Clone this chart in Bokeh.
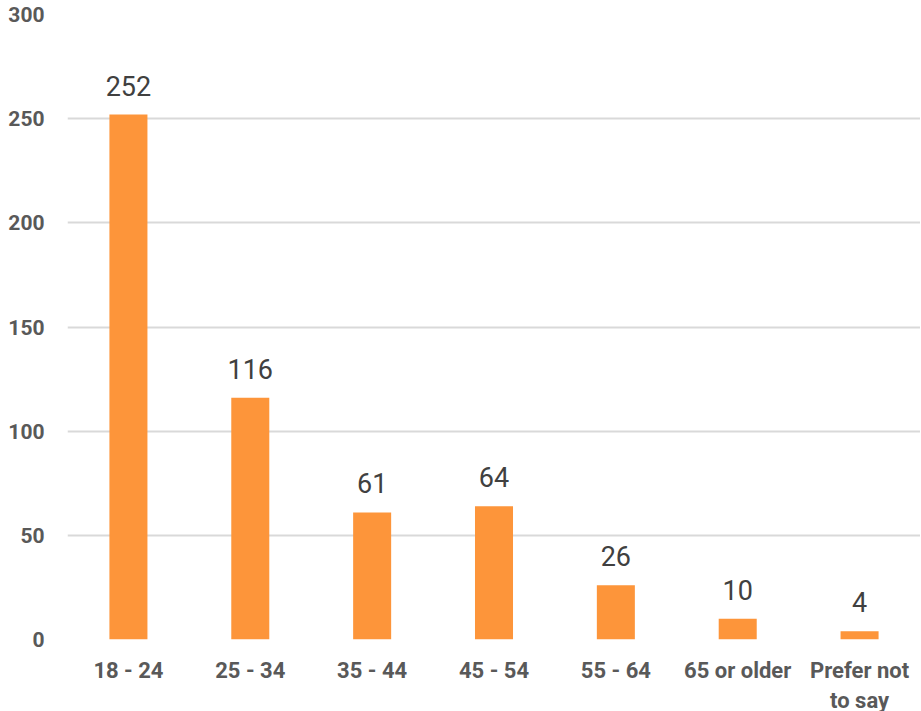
from bokeh.plotting import figure
from bokeh.models import Range1d, FixedTicker, ColumnDataSource, LabelSet
from bokeh.core.properties import value
from bokeh.embed import file_html
from bokeh.resources import INLINE

categories = ["18 - 24", "25 - 34", "35 - 44", "45 - 54", "55 - 64", "65 or older", "Prefer not\nto say"]
counts = [252, 116, 61, 64, 26, 10, 4]
y_ticks = [0, 50, 100, 150, 200, 250, 300]

xs = list(range(len(categories)))
src = ColumnDataSource(dict(x=xs, y=counts, lbl=[str(c) for c in counts]))

p = figure(frame_width=853, frame_height=625,
           output_backend="svg", toolbar_location=None,
           x_range=Range1d(-0.5, 6.5), y_range=Range1d(0, 300),
           min_border_left=67, min_border_right=0, min_border_top=14, min_border_bottom=60)
p.outline_line_color = None
p.background_fill_color = "white"

p.vbar(x="x", top="y", width=0.312, bottom=0, source=src, color="#FD953A", line_color=None)

labels = LabelSet(x="x", y="y", text="lbl", source=src, text_align="center",
                  text_baseline="alphabetic", y_offset=19, text_font=value("Roboto"),
                  text_font_size="27px", text_color="#404040")
p.add_layout(labels)

p.xgrid.grid_line_color = None
p.ygrid.grid_line_color = "#D9D9D9"
p.ygrid.grid_line_width = 2
p.yaxis.ticker = FixedTicker(ticks=y_ticks)
p.xaxis.ticker = FixedTicker(ticks=xs)
p.xaxis.major_label_overrides = {i: c for i, c in enumerate(categories)}

for ax in (p.xaxis[0], p.yaxis[0]):
    ax.axis_line_color = None
    ax.major_tick_line_color = None
    ax.minor_tick_line_color = None
    ax.major_tick_out = 0
    ax.major_tick_in = 0
    ax.major_label_text_font = "Roboto"
    ax.major_label_text_font_style = "bold"
    ax.major_label_text_color = "#595959"
p.yaxis.major_label_text_font_size = "21px"
p.xaxis.major_label_text_font_size = "22px"
p.yaxis.major_label_standoff = 23
p.xaxis.major_label_standoff = 18

open("out.html", "w").write(file_html(p, INLINE))
